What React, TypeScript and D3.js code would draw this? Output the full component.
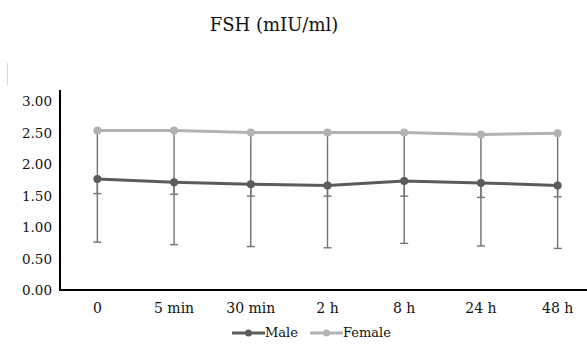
import * as d3 from 'd3';

const categories = ['0', '5 min', '30 min', '2 h', '8 h', '24 h', '48 h'];
const maleValues = [1.76, 1.71, 1.68, 1.66, 1.73, 1.70, 1.66];
const femaleValues = [2.53, 2.53, 2.50, 2.50, 2.50, 2.47, 2.49];
const maleSd = [1.00, 0.99, 0.99, 0.99, 0.99, 1.00, 1.00];
const femaleSd = [1.00, 1.01, 1.01, 1.01, 1.01, 1.00, 1.01];
const yTicks = [0, 0.5, 1, 1.5, 2, 2.5, 3];

const maleColor = '#5b5b5b';
const femaleColor = '#b2b2b2';
const errColor = '#737373';

export default function App() {
  const width = 587;
  const height = 347;
  const font = '"DejaVu Serif", serif';

  const x = d3.scaleBand().domain(categories).range([59, 596]);
  const y = d3.scaleLinear().domain([0, 3]).range([290, 101]);
  const cx = (c: string) => (x(c) ?? 0) + x.bandwidth() / 2;

  const line = d3
    .line<number>()
    .x((_, i) => cx(categories[i]))
    .y((v) => y(v));

  const series = [
    { name: 'Female', values: femaleValues, sd: femaleSd, color: femaleColor },
    { name: 'Male', values: maleValues, sd: maleSd, color: maleColor },
  ];

  return (
    <svg
      width={width}
      height={height}
      style={{ position: 'absolute', left: 0, top: 0, background: '#fff' }}
      fontFamily={font}
    >
      <text x={274} y={31} textAnchor="middle" fontSize="18" fill="#111">
        FSH (mIU/ml)
      </text>
      <line x1={7.5} x2={7.5} y1={63} y2={85} stroke="#d9d9d9" strokeWidth={1} />

      {yTicks.map((t) => (
        <text key={t} x={52} y={y(t) + 5} textAnchor="end" fontSize="13.5" fill="#111">
          {t.toFixed(2)}
        </text>
      ))}

      {/* error bars (minus only) */}
      {series.map((s) =>
        s.values.map((v, i) => {
          const px = cx(categories[i]);
          const lo = y(v - s.sd[i]);
          return (
            <g key={`${s.name}-${i}`}>
              <line x1={px} x2={px} y1={y(v)} y2={lo} stroke={errColor} strokeWidth={1.4} />
              <line x1={px - 4} x2={px + 4} y1={lo} y2={lo} stroke={errColor} strokeWidth={1.4} />
            </g>
          );
        })
      )}

      {series.map((s) => (
        <g key={s.name}>
          <path d={line(s.values) ?? ''} fill="none" stroke={s.color} strokeWidth={3} />
          {s.values.map((v, i) => (
            <circle key={i} cx={cx(categories[i])} cy={y(v)} r={4} fill={s.color} />
          ))}
        </g>
      ))}

      <line x1={60} x2={60} y1={90} y2={291} stroke="#000" strokeWidth={2} />
      <line x1={59} x2={587} y1={290} y2={290} stroke="#000" strokeWidth={2} />

      {categories.map((c) => (
        <text key={c} x={cx(c)} y={313} textAnchor="middle" fontSize="14" fill="#111">
          {c}
        </text>
      ))}

      {[
        { name: 'Male', color: maleColor, x0: 232 },
        { name: 'Female', color: femaleColor, x0: 310 },
      ].map((l) => (
        <g key={l.name}>
          <line x1={l.x0} x2={l.x0 + 33} y1={333} y2={333} stroke={l.color} strokeWidth={3} />
          <circle cx={l.x0 + 16.5} cy={333} r={3.5} fill={l.color} />
          <text x={l.x0 + 33} y={337} fontSize="13" fill="#111">
            {l.name}
          </text>
        </g>
      ))}
    </svg>
  );
}
